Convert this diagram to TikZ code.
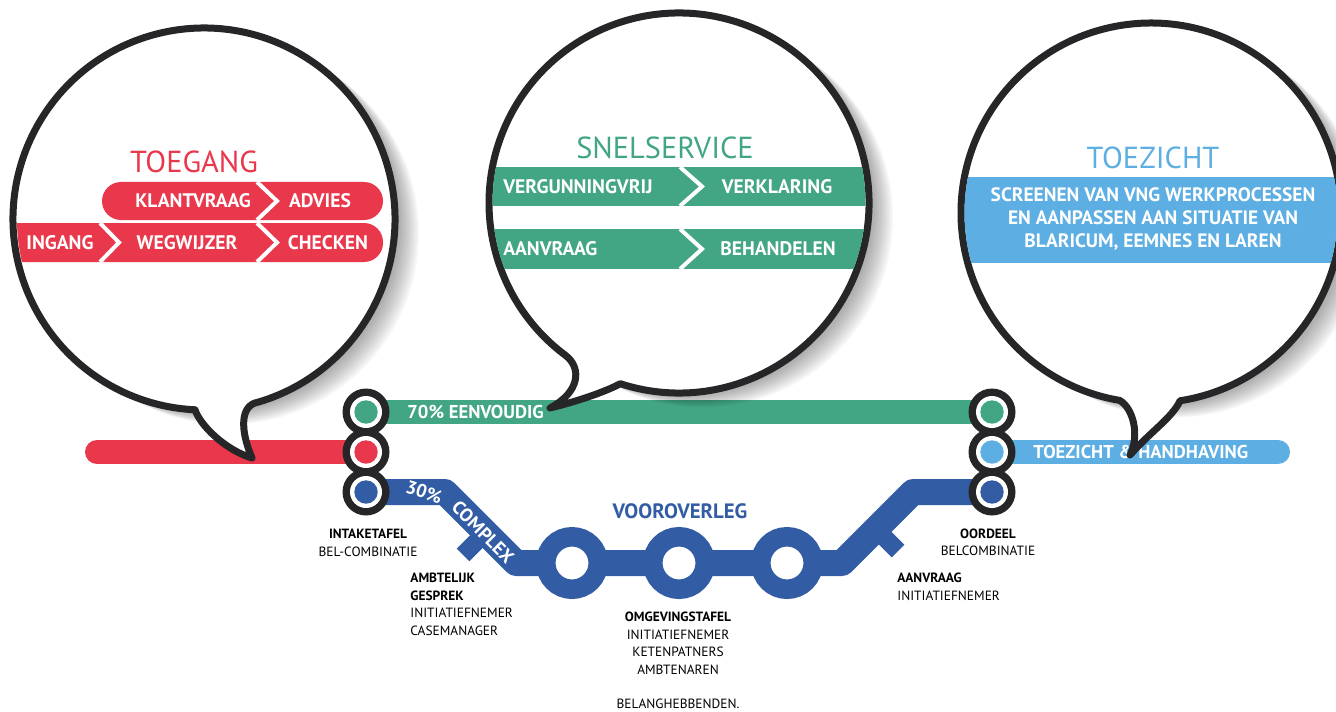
\documentclass[tikz,border=0pt]{standalone}
\usepackage{fontspec}
\setmainfont{PT Sans}
\usetikzlibrary{calc,backgrounds}

\definecolor{TgRed}{RGB}{233,55,75}
\definecolor{SsGreen}{RGB}{66,166,132}
\definecolor{TzBlue}{RGB}{93,174,227}
\definecolor{VoBlue}{RGB}{50,93,164}
\definecolor{Rim}{RGB}{38,38,40}

\tikzset{
  metro/.style={line width=12pt},
  dot/.style={circle, inner sep=0pt, minimum size=11.7pt},
  halte/.style={circle, draw=VoBlue, line width=9.75pt, fill=white, inner sep=0pt, minimum size=26.25pt},
  bubble/.style={draw=Rim, line width=3.5pt, fill=white, line join=round},
  band/.style={text=white, font=\bfseries\fontsize{9.8}{11}\selectfont, inner sep=0pt},
  chevron/.style={draw=white, line width=2pt},
  title/.style={font=\fontsize{15.2}{17}\selectfont, inner sep=0pt},
  caption/.style={font=\fontsize{6.7}{8.7}\selectfont, inner sep=0pt},
  linetext/.style={text=white, font=\bfseries\fontsize{9.3}{10}\selectfont, inner sep=0pt},
}

\begin{document}
\begin{tikzpicture}[x=0.5pt, y=-0.5pt]
\useasboundingbox (0,0) rectangle (1336,711);

% stations
\foreach \x in {366,992}
  \foreach \y in {412,452,492}
    \fill[Rim] (\x,\y) circle (23.5);
\foreach \x in {366,992}
  \foreach \y in {412,452,492}
    \fill[white] (\x,\y) circle (16);
\node (IntakeGreen) [dot, fill=SsGreen] at (366,412) {};
\node (IntakeRed) [dot, fill=TgRed] at (366,452) {};
\node (IntakeBlue) [dot, fill=VoBlue] at (366,492) {};
\node (OordeelGreen) [dot, fill=SsGreen] at (992,412) {};
\node (OordeelLight) [dot, fill=TzBlue] at (992,452) {};
\node (OordeelBlue) [dot, fill=VoBlue] at (992,492) {};

% vooroverleg
\node (Halte1) [halte] at (572,563) {};
\node (Halte2) [halte] at (679,563) {};
\node (Halte3) [halte] at (787,563) {};

\coordinate (RedStart) at (97,452);
\coordinate (LightEnd) at (1278,452);
\begin{scope}[on background layer]
  \draw[metro, TgRed, line cap=round] (RedStart) -- (IntakeRed.center);
  \draw[metro, SsGreen] (IntakeGreen.center) -- (OordeelGreen.center);
  \draw[metro, TzBlue, line cap=round] (OordeelLight.center) -- (LightEnd);
  \draw[metro, VoBlue, line width=13pt, line join=round] (IntakeBlue.center) -- (445,492) -- (516,563)
    -- (Halte1.center) -- (Halte2.center) -- (Halte3.center) -- (842,563) -- (913,492) -- (OordeelBlue.center);
  \draw[VoBlue, line width=9pt] (485,533) -- (463,555);
  \draw[VoBlue, line width=9pt] (876,529) -- (898,551);
\end{scope}

\node (Eenvoudig) [linetext, anchor=west] at (407,412) {70\% EENVOUDIG};
\node (Handhaving) [linetext, anchor=west] at (1033,452) {TOEZICHT \& HANDHAVING};
\node (Procent) [linetext, rotate=-18] at (424,492) {30\%};
\node (Complex) [linetext, rotate=-45] at (483,532) {COMPLEX};
\node (Vooroverleg) [font=\bfseries\fontsize{10.4}{12}\selectfont, text=VoBlue] at (680,511) {VOOROVERLEG};

% toegang
\foreach \s in {2,4,...,24}
  \fill[black, opacity=0.035] (204+\s,219+0.6*\s) circle (191);
\draw[bubble] ($(204,219)+(73.5:191)$) arc[start angle=73.5, end angle=-267.3, radius=191]
  .. controls (200,425) and (225,450) .. (252,458) .. controls (240,430) and (240,405) .. cycle;
\begin{scope}
  \clip (204,219) circle (187);
  \fill[TgRed, rounded corners=9.5pt] (102,182) rectangle (383,220);
  \fill[TgRed, rounded corners=9.5pt] (-20,223) rectangle (383,262);
  \draw[chevron] (257,182) -- (277,201) -- (257,220);
  \draw[chevron] (257,223) -- (277,242.5) -- (257,262);
  \draw[chevron] (100,223) -- (119,242.5) -- (100,262);
\end{scope}
\node (Toegang) [title, text=TgRed] at (194,162) {TOEGANG};
\node (Klantvraag) [band] at (193,201) {KLANTVRAAG};
\node (Advies) [band] at (320,201) {ADVIES};
\node (Ingang) [band] at (60,243) {INGANG};
\node (Wegwijzer) [band] at (187,243) {WEGWIJZER};
\node (Checken) [band] at (328,243) {CHECKEN};

% snelservice
\foreach \s in {2,4,...,24}
  \fill[black, opacity=0.035] (679+\s,203+0.6*\s) circle (190);
\draw[bubble] ($(679,203)+(108:190)$) arc[start angle=108, end angle=-233.3, radius=190]
  .. controls (582,368) and (580,392) .. (550,408) .. controls (575,402) and (605,392) .. cycle;
\begin{scope}
  \clip (679,203) circle (186.5);
  \fill[SsGreen] (480,167) rectangle (880,206);
  \fill[SsGreen] (480,229) rectangle (880,269);
  \draw[chevron] (680,167) -- (702,186.5) -- (680,206);
  \draw[chevron] (680,229) -- (702,249) -- (680,269);
\end{scope}
\node (Snelservice) [title, text=SsGreen] at (665,148) {SNELSERVICE};
\node (Vrij) [band, anchor=west] at (503,187) {VERGUNNINGVRIJ};
\node (Verklaring) [band] at (777,187) {VERKLARING};
\node (Aanvraag) [band, anchor=west] at (503,249) {AANVRAAG};
\node (Behandelen) [band] at (778,249) {BEHANDELEN};

% toezicht
\foreach \s in {2,4,...,24}
  \fill[black, opacity=0.035] (1151+\s,213+0.6*\s) circle (190);
\draw[bubble] ($(1151,213)+(81.2:190)$) arc[start angle=81.2, end angle=-260.5, radius=190]
  .. controls (1133,408) and (1140,435) .. (1130,455) .. controls (1150,432) and (1172,418) .. cycle;
\begin{scope}
  \clip (1151,213) circle (186.5);
  \fill[TzBlue] (950,177) rectangle (1350,263);
\end{scope}
\node (Toezicht) [title, text=TzBlue] at (1153,158) {TOEZICHT};
\node (Screenen) [band, font=\bfseries\fontsize{9.7}{11.5}\selectfont, align=center] at (1153,219)
  {SCREENEN VAN VNG WERKPROCESSEN\\EN AANPASSEN AAN SITUATIE VAN\\BLARICUM, EEMNES EN LAREN};

% captions
\node (Intake) [caption, align=center] at (368,543) {\textbf{INTAKETAFEL}\\BEL-COMBINATIE};
\node (Ambtelijk) [caption, align=left, anchor=north west] at (410,573)
  {\textbf{AMBTELIJK}\\\textbf{GESPREK}\\INITIATIEFNEMER\\CASEMANAGER};
\node (Omgeving) [caption, align=center, anchor=north] at (678,612)
  {\textbf{OMGEVINGSTAFEL}\\INITIATIEFNEMER\\KETENPATNERS\\AMBTENAREN\\[8.7pt]BELANGHEBBENDEN.};
\node (Oordeel) [caption, align=center] at (988,542) {\textbf{OORDEEL}\\BELCOMBINATIE};
\node (Indiening) [caption, align=left, anchor=north west] at (897,573)
  {\textbf{AANVRAAG}\\INITIATIEFNEMER};
\end{tikzpicture}
\end{document}
